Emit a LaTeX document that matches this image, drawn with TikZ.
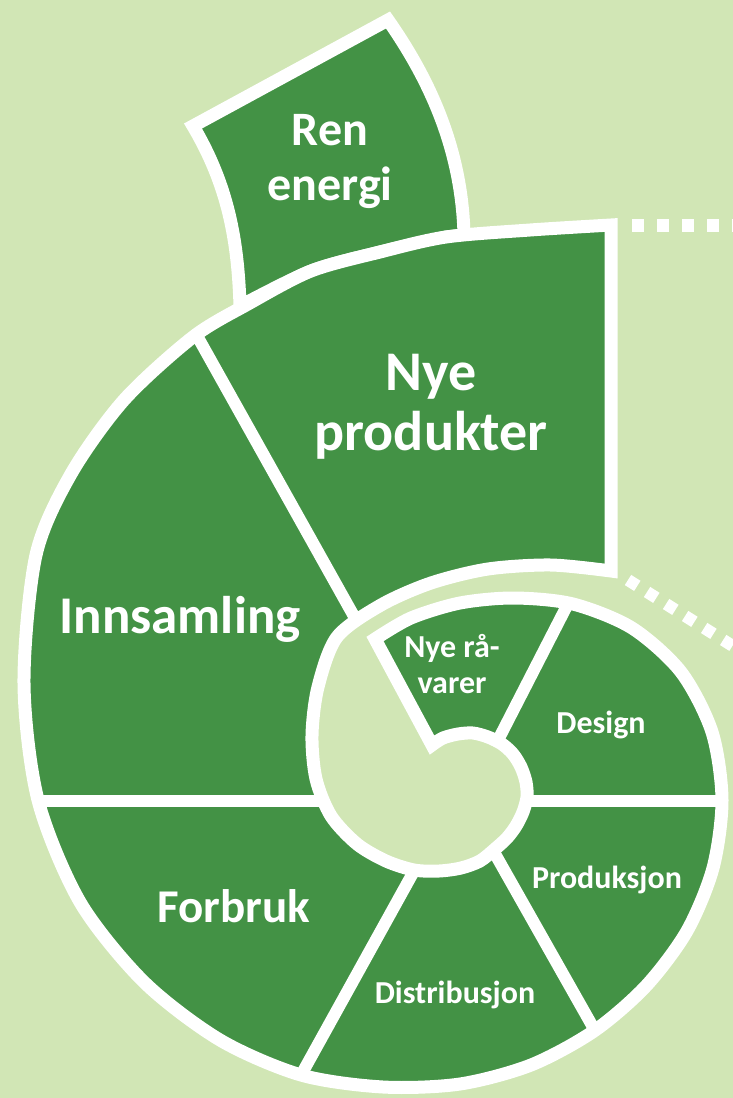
\documentclass[tikz,border=0pt]{standalone}
\usepackage{fontspec}
\setmainfont{Carlito}
\definecolor{leaf}{RGB}{67,146,69}
\definecolor{pale}{RGB}{209,230,181}
\tikzset{
  shell/.style={fill=leaf, draw=white, line width=13pt, line join=miter, miter limit=10},
  divider/.style={draw=white, line width=12pt},
  dotline/.style={draw=white, line width=13pt},
  lbl/.style={text=white, align=center, inner sep=0pt, anchor=base},
  small/.style={font=\bfseries\fontsize{32}{36}\selectfont},
}
\newcommand{\shellband}{plot[smooth, tension=0.5] coordinates {(375,639) (411,618) (460,603) (514,598) (573,604) (632,628) (681,672) (712,732) (722,800) (713,868) (687,931) (646,986) (594,1031) (531,1065) (460,1084) (383,1087) (301,1075) (220,1040) (144,982) (80,902) (38,800) (24,683) (36,555) (71,474) (124,400) (193,337) (248,304) (311,271) (380,252) (446,237) (530,230) (611,225)}
  -- plot[smooth, tension=0.5] coordinates {(611,571) (551,565) (488,569) (431,583) (381,605) (337,637) (318,687) (312,735) (316,779) (331,816) (357,844) (386,861) (414,870) (439,871) (461,868) (480,861) (495,849) (507,838) (516,826) (523,812) (527,797) (526,782) (521,767) (513,754) (502,744) (488,737) (473,733) (458,734) (443,738) (432,745)}
  -- cycle}
\begin{document}
\begin{tikzpicture}[x=1pt,y=-1pt]
\fill[pale] (0,0) rectangle (733,1098);
\useasboundingbox (0,0) rectangle (733,1098);

% dotted guide lines
\coordinate (d1a) at (632,225.5);
\coordinate (d1b) at (780,225.5);
\coordinate (d2a) at (628,580);
\coordinate (d2b) at (755,660);
\draw[dotline, dash pattern=on 11.5pt off 13.5pt] (d1a) -- (d1b);
\draw[dotline, line width=12pt, dash pattern=on 11pt off 11.5pt] (d2a) -- (d2b);

% Ren energi
\path[shell] (240,306) .. controls (238,240) and (228,185) .. (193,126)
  -- (388,20) .. controls (430,80) and (462,150) .. (464,235)
  -- plot[smooth, tension=0.5] coordinates {(446,237) (380,252) (311,271) (240,306)}
  -- cycle;

% spiral band
\path[shell] \shellband;

% radial dividers
\coordinate (v1a) at (574,592);  \coordinate (v1b) at (495,746);
\coordinate (v2a) at (520,801);  \coordinate (v2b) at (735,801);
\coordinate (v3a) at (490,845);  \coordinate (v3b) at (602,1043);
\coordinate (v4a) at (419,862);  \coordinate (v4b) at (295,1086);
\coordinate (v5a) at (30,801);   \coordinate (v5b) at (328,801);
\coordinate (v6a) at (191,325);  \coordinate (v6b) at (360,627);
\begin{scope}
\clip \shellband;
\draw[divider] (v1a) -- (v1b);
\draw[divider] (v2a) -- (v2b);
\draw[divider] (v3a) -- (v3b);
\draw[divider] (v4a) -- (v4b);
\draw[divider] (v5a) -- (v5b);
\draw[divider] (v6a) -- (v6b);
\end{scope}

% labels (anchor base = baseline of the last line)
\node[lbl, font=\bfseries\fontsize{48}{55}\selectfont] (ren) at (330,200) {Ren\\energi};
\node[lbl, font=\bfseries\fontsize{56}{60}\selectfont] (nye) at (431,450) {Nye\\produkter};
\node[lbl, font=\bfseries\fontsize{53}{60}\selectfont] (inn) at (180,633) {Innsamling};
\node[lbl, font=\bfseries\fontsize{47}{55}\selectfont] (forbruk) at (234,922) {Forbruk};
\node[lbl, small] (raa) at (452,693) {Nye rå-\\varer};
\node[lbl, small] (design) at (601,733) {Design};
\node[lbl, small] (prod) at (607,888) {Produksjon};
\node[lbl, small] (dist) at (455,1003) {Distribusjon};
\end{tikzpicture}
\end{document}
